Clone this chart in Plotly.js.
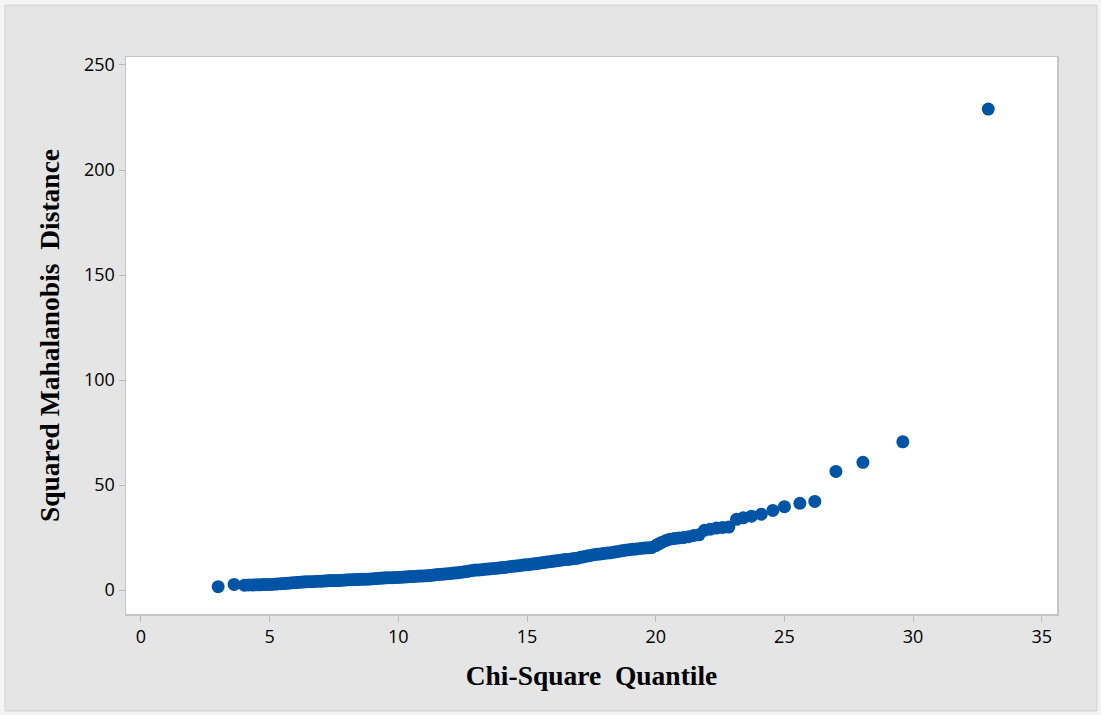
<!DOCTYPE html>
<html>
<head>
<meta charset="utf-8">
<script src="https://cdn.plot.ly/plotly-3.0.1.min.js"></script>
<style>html,body{margin:0;padding:0;background:#fff;}#chart{width:1101px;height:715px;}</style>
</head>
<body>
<div id="chart"></div>
<script>
// Chi-square quantile (x) vs squared Mahalanobis distance (y)
var chiSquareQuantile = [
  3.00, 3.62, 4.02, 4.18, 4.33, 4.48, 4.62, 4.76, 4.90, 5.03, 5.16, 5.29, 5.42, 5.55, 5.68, 5.80, 5.92,
  6.04, 6.16, 6.28, 6.40, 6.52, 6.64, 6.76, 6.88, 7.00, 7.12, 7.24, 7.36, 7.48, 7.60, 7.72, 7.84, 7.96,
  8.08, 8.20, 8.32, 8.44, 8.56, 8.68, 8.80, 8.92, 9.04, 9.16, 9.28, 9.40, 9.52, 9.64, 9.76, 9.88,
  10.00, 10.12, 10.24, 10.36, 10.48, 10.60, 10.72, 10.84, 10.96, 11.08, 11.20, 11.32, 11.44, 11.56, 11.68, 11.80, 11.92,
  12.04, 12.16, 12.28, 12.40, 12.52, 12.64, 12.76, 12.88, 13.00, 13.12, 13.24, 13.36, 13.48, 13.60, 13.72, 13.84, 13.96,
  14.08, 14.20, 14.32, 14.44, 14.56, 14.68, 14.80, 14.92, 15.04, 15.16, 15.28, 15.40, 15.52, 15.64, 15.76, 15.88,
  16.00, 16.12, 16.24, 16.36, 16.48, 16.60, 16.72, 16.84, 16.96, 17.08, 17.20, 17.33, 17.46, 17.59, 17.72, 17.85, 17.98,
  18.12, 18.26, 18.40, 18.54, 18.68, 18.82, 18.96, 19.10, 19.25, 19.40, 19.55, 19.70, 19.85,
  20.00, 20.12, 20.25, 20.40, 20.55, 20.72, 20.90, 21.08, 21.28, 21.48, 21.68, 21.90, 22.12, 22.36, 22.60, 22.84,
  23.14, 23.40, 23.72, 24.10, 24.55, 25.00, 25.60, 26.18, 27.00, 28.05, 29.60, 32.92
];
var squaredMahalanobis = [
  1.6, 2.7, 2.3, 2.4, 2.4, 2.5, 2.5, 2.6, 2.6, 2.7, 2.8, 2.9, 3.0, 3.1, 3.2, 3.4, 3.5,
  3.6, 3.7, 3.8, 3.9, 4.0, 4.0, 4.1, 4.2, 4.2, 4.3, 4.4, 4.5, 4.5, 4.6, 4.6, 4.7, 4.8,
  4.9, 4.9, 5.0, 5.0, 5.1, 5.2, 5.2, 5.3, 5.4, 5.5, 5.6, 5.7, 5.8, 5.9, 5.9, 6.0,
  6.0, 6.1, 6.2, 6.3, 6.4, 6.5, 6.6, 6.7, 6.7, 6.8, 6.9, 7.1, 7.3, 7.4, 7.5, 7.7, 7.8,
  7.9, 8.1, 8.2, 8.4, 8.6, 8.8, 9.1, 9.3, 9.5, 9.6, 9.7, 9.9, 10.0, 10.2, 10.3, 10.4, 10.6,
  10.7, 10.9, 11.1, 11.3, 11.5, 11.6, 11.8, 12.0, 12.1, 12.3, 12.5, 12.7, 12.9, 13.1, 13.3, 13.5,
  13.7, 13.9, 14.1, 14.3, 14.5, 14.6, 14.8, 15.0, 15.2, 15.6, 15.9, 16.2, 16.5, 16.8, 17.0, 17.2, 17.4,
  17.6, 17.8, 18.1, 18.4, 18.7, 19.0, 19.2, 19.4, 19.6, 19.8, 20.0, 20.1, 20.3,
  21.2, 22.0, 22.8, 23.6, 24.2, 24.5, 24.8, 25.0, 25.4, 26.0, 26.3, 28.5, 29.0, 29.5, 29.8, 30.0,
  33.7, 34.4, 35.2, 36.1, 37.9, 39.7, 41.3, 42.2, 56.5, 60.8, 70.6, 229.0
];
var xTickValues = [0, 5, 10, 15, 20, 25, 30, 35];
var yTickValues = [0, 50, 100, 150, 200, 250];
var xTitle = 'Chi-Square  Quantile';
var yTitle = 'Squared Mahalanobis  Distance';

var trace = {
  type: 'scatter',
  mode: 'markers',
  x: chiSquareQuantile,
  y: squaredMahalanobis,
  marker: {color: '#0054a6', size: 13, line: {width: 0}},
  hoverinfo: 'x+y'
};

var titleFont = {family: '"Liberation Serif", "DejaVu Serif", serif', size: 27.5, color: '#000', weight: 'bold'};

var axisCommon = {
  showgrid: false,
  zeroline: false,
  showline: true,
  linecolor: '#c4c4c4',
  linewidth: 1.5,
  mirror: true,
  ticks: 'outside',
  ticklen: 6,
  tickwidth: 1,
  tickcolor: '#b8b8b8',
  tickfont: {family: '"Open Sans", "Noto Sans", sans-serif', size: 18, color: '#000'},
  automargin: false
};

var layout = {
  width: 1101,
  height: 715,
  margin: {l: 126, r: 44, t: 57, b: 101, pad: 0},
  paper_bgcolor: '#f4f4f4',
  plot_bgcolor: '#ffffff',
  showlegend: false,
  xaxis: Object.assign({}, axisCommon, {
    range: [-0.58, 35.59],
    tickvals: xTickValues,
    ticktext: xTickValues.map(String),
    title: {text: xTitle, standoff: 18, font: titleFont}
  }),
  yaxis: Object.assign({}, axisCommon, {
    range: [-11.4, 253.8],
    tickvals: yTickValues,
    ticktext: yTickValues.map(String),
    title: {text: yTitle, standoff: 16, font: titleFont}
  }),
  shapes: [{
    type: 'rect', xref: 'paper', yref: 'paper', layer: 'below',
    x0: -0.13, x1: 1.043, y0: -0.174, y1: 1.093,
    fillcolor: '#e5e5e5', line: {color: '#d0d0d0', width: 1}
  }, {
    type: 'rect', xref: 'paper', yref: 'paper', layer: 'below',
    x0: 0, x1: 1, y0: 0, y1: 1,
    fillcolor: '#ffffff', line: {width: 0}
  }]
};

Plotly.newPlot('chart', [trace], layout, {displayModeBar: false, staticPlot: true});
</script>
</body>
</html>
